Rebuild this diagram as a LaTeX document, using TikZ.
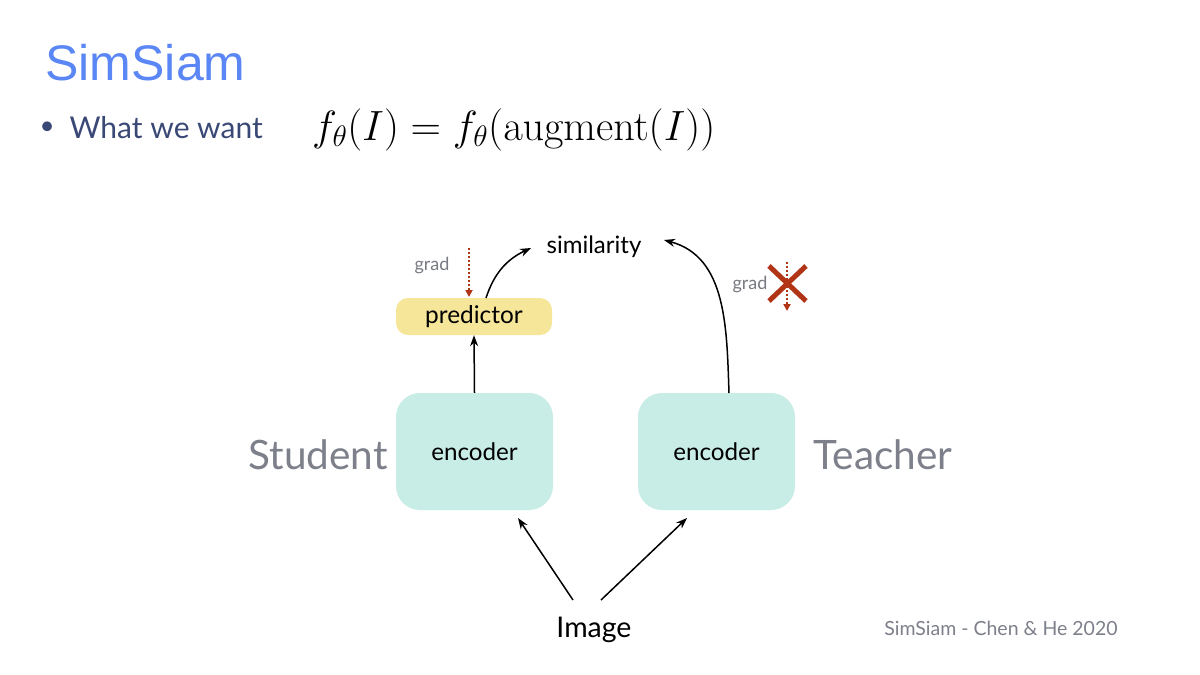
\RequirePackage{fix-cm}
\documentclass[tikz,border=0pt]{standalone}
\usepackage[no-math]{fontspec}
\setmainfont{Lato}
\newfontfamily\arialf{Liberation Sans}
\usetikzlibrary{arrows.meta,calc}
\definecolor{titleblue}{RGB}{90,135,245}
\definecolor{bulletblue}{RGB}{58,72,118}
\definecolor{labelgray}{RGB}{125,128,138}
\definecolor{gradgray}{RGB}{120,122,130}
\definecolor{predyellow}{RGB}{246,230,153}
\definecolor{enccyan}{RGB}{200,236,230}
\definecolor{xred}{RGB}{178,52,22}
\tikzset{
  fs/.style={font=\fontsize{#1}{#1}\selectfont},
  encbox/.style={fill=enccyan, rounded corners=24pt, minimum width=157pt, minimum height=117pt, inner sep=0pt, fs=24.2},
  predbox/.style={fill=predyellow, rounded corners=12pt, minimum width=156pt, minimum height=37pt, inner sep=0pt, fs=24.4},
  side/.style={text=labelgray, fs=40.5},
  gradlbl/.style={text=gradgray, fs=18},
  arr/.style={-{Stealth[length=11pt,width=8pt]}, line width=1.5pt, black},
  gradarr/.style={-{Triangle[length=7pt,width=7pt]}, dotted, line width=2pt, xred},
}
\begin{document}
\begin{tikzpicture}[x=1pt,y=-1pt]
\useasboundingbox[fill=white] (0,0) rectangle (1200,675);
% header
\node[text=titleblue, font=\arialf\fontsize{50}{50}\selectfont, anchor=west] (title) at (42,63) {SimSiam};
\node[text=bulletblue, fs=26, anchor=west] (bul) at (36,128) {\textbullet};
\node[text=bulletblue, fs=30, anchor=west] (want) at (66,128) {What we want};
\node[fs=42.3, anchor=west, inner sep=0pt] (eq) at (312,130) {$f_\theta(I) = f_\theta(\mathrm{augment}(I))$};
% boxes
\node[encbox] (enc1) at (474.5,451.5) {encoder};
\node[encbox] (enc2) at (716.5,451.5) {encoder};
\node[predbox] (pred) at (474,316.5) {predictor};
\node[fs=24] (sim) at (594,247) {similarity};
\node[side] (stu) at (318,455) {Student};
\node[side] (tea) at (883,455) {Teacher};
\node[fs=28.5] (img) at (594,630) {Image};
\node[text=labelgray, fs=19.5] (ref) at (1001,628) {SimSiam - Chen \& He 2020};
\node[gradlbl] (g1) at (432,266) {grad};
\node[gradlbl] (g2) at (750,285) {grad};
% connectors
\draw[arr] (enc1.north) -- (pred.south);
\coordinate (p1) at (486,298);
\coordinate (s1) at (531,248);
\draw[arr] (p1) to[out=72,in=205] (s1);
\coordinate (e2) at (729,393);
\coordinate (s2) at (664,240);
\draw[arr] (e2) to[out=92,in=-15] (s2);
\coordinate (i1) at (573,600);
\coordinate (i2) at (601,600);
\coordinate (ea) at (518,518);
\coordinate (eb) at (687,518);
\draw[arr] (i1) -- (ea);
\draw[arr] (i2) -- (eb);
% grad arrows
\coordinate (d1a) at (469,248);
\coordinate (d1b) at (469,297);
\draw[gradarr] (d1a) -- (d1b);
\coordinate (d2a) at (787,262);
\coordinate (d2b) at (787,311);
\draw[gradarr] (d2a) -- (d2b);
\coordinate (xa) at (769,266);
\coordinate (xb) at (806,301);
\coordinate (xc) at (806,266);
\coordinate (xd) at (769,301);
\draw[xred, line width=5pt] (xa) -- (xb) (xc) -- (xd);
\end{tikzpicture}
\end{document}
